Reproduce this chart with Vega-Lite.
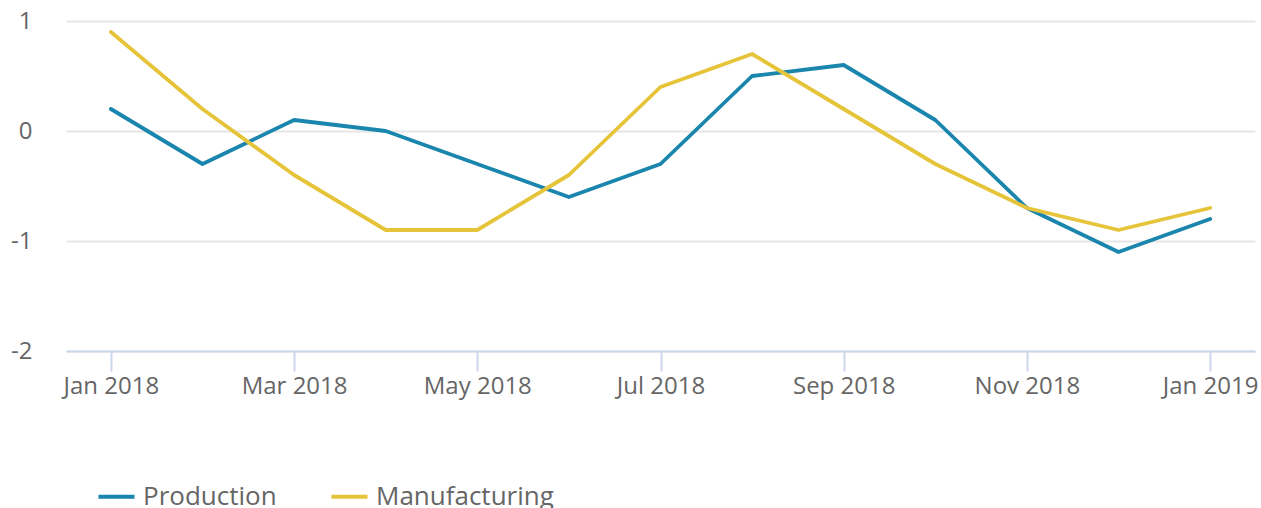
{
  "$schema": "https://vega.github.io/schema/vega-lite/v6.json",
  "autosize": {"type": "none"},
  "width": 1189,
  "height": 330,
  "padding": {"left": 66, "top": 21, "right": 6, "bottom": 157},
  "background": "white",
  "config": {
    "view": {"stroke": null},
    "font": "Open Sans"
  },
  "data": {
    "values": [
      {"month": "Jan 2018", "series": "Production", "value": 0.2},
      {"month": "Feb 2018", "series": "Production", "value": -0.3},
      {"month": "Mar 2018", "series": "Production", "value": 0.1},
      {"month": "Apr 2018", "series": "Production", "value": 0.0},
      {"month": "May 2018", "series": "Production", "value": -0.3},
      {"month": "Jun 2018", "series": "Production", "value": -0.6},
      {"month": "Jul 2018", "series": "Production", "value": -0.3},
      {"month": "Aug 2018", "series": "Production", "value": 0.5},
      {"month": "Sep 2018", "series": "Production", "value": 0.6},
      {"month": "Oct 2018", "series": "Production", "value": 0.1},
      {"month": "Nov 2018", "series": "Production", "value": -0.7},
      {"month": "Dec 2018", "series": "Production", "value": -1.1},
      {"month": "Jan 2019", "series": "Production", "value": -0.8},
      {"month": "Jan 2018", "series": "Manufacturing", "value": 0.9},
      {"month": "Feb 2018", "series": "Manufacturing", "value": 0.2},
      {"month": "Mar 2018", "series": "Manufacturing", "value": -0.4},
      {"month": "Apr 2018", "series": "Manufacturing", "value": -0.9},
      {"month": "May 2018", "series": "Manufacturing", "value": -0.9},
      {"month": "Jun 2018", "series": "Manufacturing", "value": -0.4},
      {"month": "Jul 2018", "series": "Manufacturing", "value": 0.4},
      {"month": "Aug 2018", "series": "Manufacturing", "value": 0.7},
      {"month": "Sep 2018", "series": "Manufacturing", "value": 0.2},
      {"month": "Oct 2018", "series": "Manufacturing", "value": -0.3},
      {"month": "Nov 2018", "series": "Manufacturing", "value": -0.7},
      {"month": "Dec 2018", "series": "Manufacturing", "value": -0.9},
      {"month": "Jan 2019", "series": "Manufacturing", "value": -0.7}
    ]
  },
  "mark": {"type": "line", "strokeWidth": 3.8, "strokeCap": "round", "strokeJoin": "round"},
  "encoding": {
    "x": {
      "field": "month",
      "type": "ordinal",
      "sort": null,
      "scale": {"type": "point", "padding": 0.49},
      "axis": {
        "title": null,
        "values": ["Jan 2018", "Mar 2018", "May 2018", "Jul 2018", "Sep 2018", "Nov 2018", "Jan 2019"],
        "labelAngle": 0,
        "labelFontSize": 24,
        "labelColor": "#666666",
        "labelPadding": 3,
        "domainColor": "#ccd6eb",
        "domainWidth": 2,
        "tickColor": "#ccd6eb",
        "tickWidth": 2,
        "tickSize": 20,
        "grid": false
      }
    },
    "y": {
      "field": "value",
      "type": "quantitative",
      "scale": {"domain": [-2, 1], "nice": false},
      "axis": {
        "title": null,
        "values": [-2, -1, 0, 1],
        "labelExpr": "toString(datum.value)",
        "domain": false,
        "ticks": false,
        "labelPadding": 34,
        "labelFontSize": 24,
        "labelColor": "#666666",
        "gridColor": "#e6e6e6",
        "gridWidth": 2
      }
    },
    "color": {
      "field": "series",
      "type": "nominal",
      "sort": ["Production", "Manufacturing"],
      "scale": {"domain": ["Production", "Manufacturing"], "range": ["#1a86ad", "#e6c43a"]},
      "legend": {
        "title": null,
        "orient": "none",
        "direction": "horizontal",
        "legendX": 30,
        "legendY": 455,
        "symbolType": "stroke",
        "symbolSize": 1300,
        "symbolStrokeWidth": 4,
        "labelFontSize": 26,
        "labelColor": "#666666",
        "labelOffset": 6,
        "labelLimit": 400,
        "columnPadding": 46
      }
    }
  }
}
